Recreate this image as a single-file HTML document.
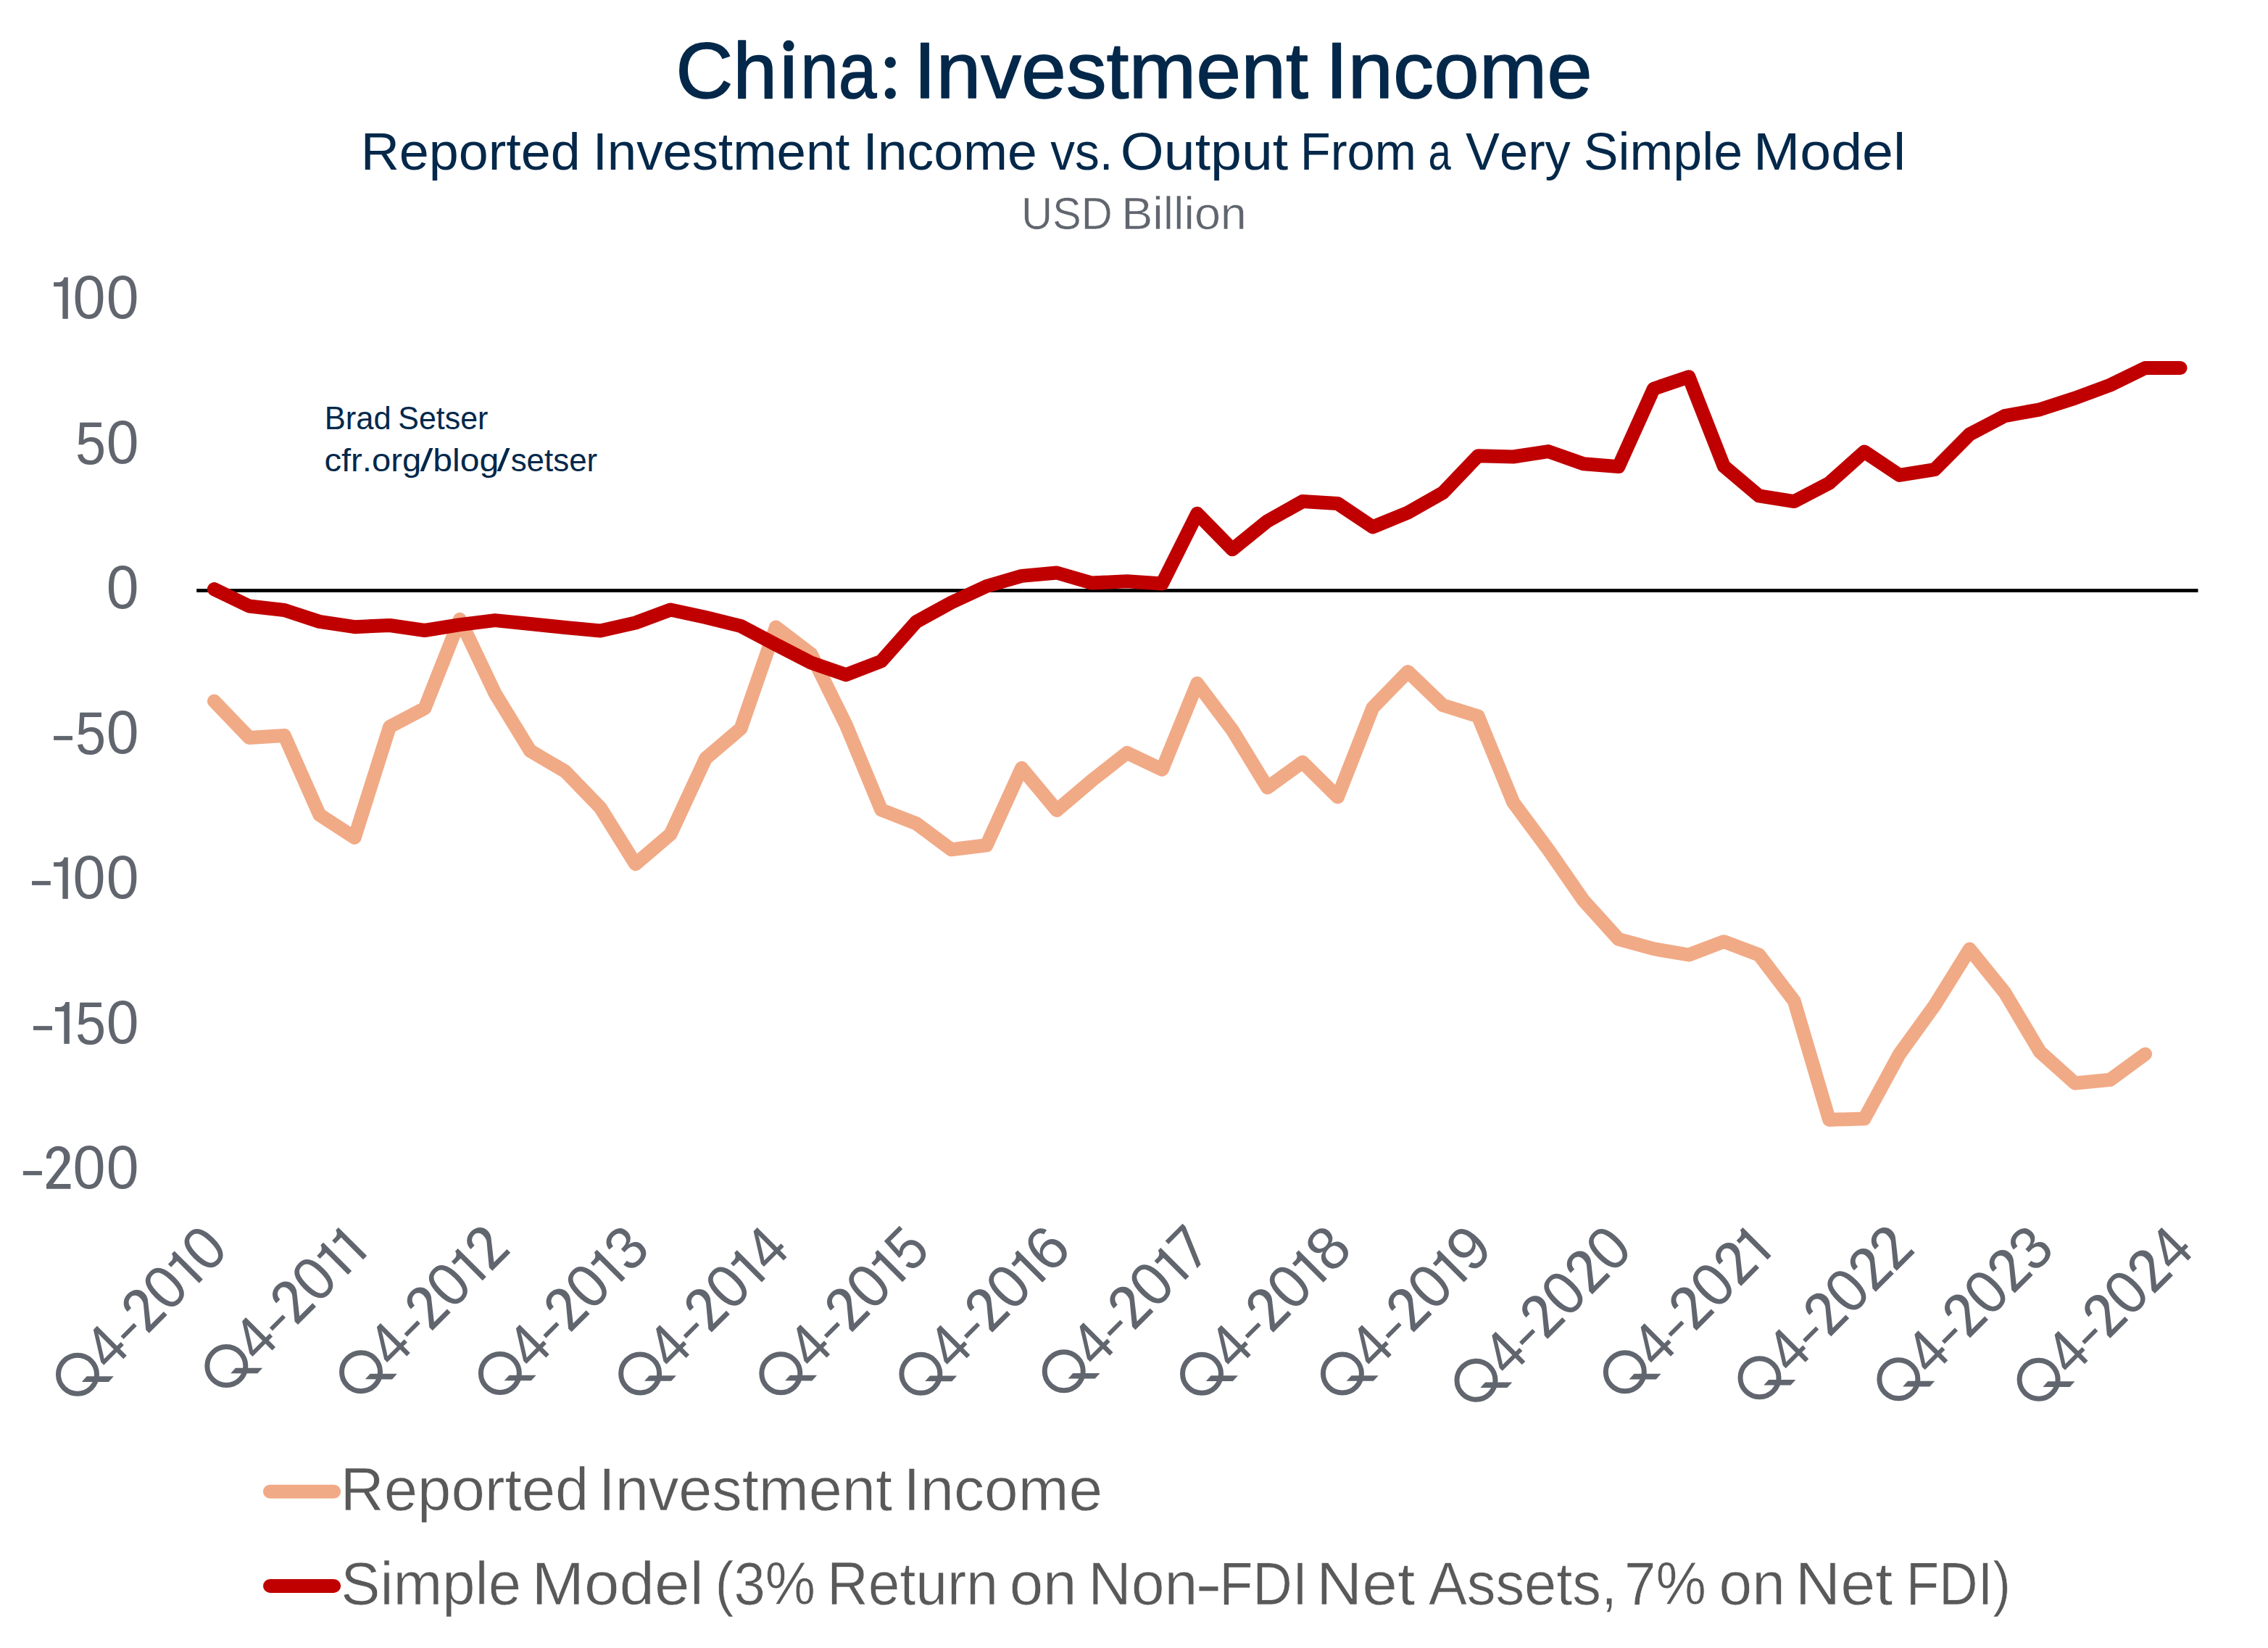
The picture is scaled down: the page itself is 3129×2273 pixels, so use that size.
<!DOCTYPE html>
<html><head><meta charset="utf-8"><title>China: Investment Income</title><style>
html,body{margin:0;padding:0;background:#fff;overflow:hidden;}
svg{display:block;}
text{font-family:'Liberation Sans', sans-serif;font-kerning:none;}
</style></head><body>
<svg width="3129" height="2273" viewBox="0 0 3129 2273">
<rect width="3129" height="2273" fill="#fff"/>
<text transform="translate(932.19,134.80) scale(0.9962,1)" font-size="110" fill="#03284a" stroke="#03284a" stroke-width="1.50" stroke-linejoin="round">Ch</text>
<text transform="translate(1072.06,134.80) scale(1.0447,1)" font-size="110" fill="#03284a" stroke="#03284a" stroke-width="1.50" stroke-linejoin="round">ı</text>
<text transform="translate(1104.16,134.80) scale(0.8614,1)" font-size="110" fill="#03284a" stroke="#03284a" stroke-width="1.50" stroke-linejoin="round">na</text>
<text transform="translate(1260.47,134.80) scale(1.0122,1)" font-size="110" fill="#03284a" stroke="#03284a" stroke-width="1.50" stroke-linejoin="round">Investment</text>
<text transform="translate(1828.38,134.80) scale(1.0215,1)" font-size="110" fill="#03284a" stroke="#03284a" stroke-width="1.50" stroke-linejoin="round">Income</text>
<text transform="translate(497.66,233.50) scale(1.0093,1)" font-size="73" fill="#03284a">Reported</text>
<text transform="translate(817.71,233.50) scale(0.9935,1)" font-size="73" fill="#03284a">Investment</text>
<text transform="translate(1190.44,233.50) scale(1.0039,1)" font-size="73" fill="#03284a">Income</text>
<text transform="translate(1449.17,233.50) scale(0.9251,1)" font-size="73" fill="#03284a">vs.</text>
<text transform="translate(1545.85,233.50) scale(1.0555,1)" font-size="73" fill="#03284a">Output</text>
<text transform="translate(1793.77,233.50) scale(0.9398,1)" font-size="73" fill="#03284a">From</text>
<text transform="translate(1970.51,233.50) scale(0.7707,1)" font-size="73" fill="#03284a">a</text>
<text transform="translate(2022.09,233.50) scale(0.9643,1)" font-size="73" fill="#03284a">Very</text>
<text transform="translate(2184.74,233.50) scale(0.9830,1)" font-size="73" fill="#03284a">Simple</text>
<text transform="translate(2418.97,233.50) scale(1.0572,1)" font-size="73" fill="#03284a">Model</text>
<text transform="translate(1408.90,316.10) scale(0.9469,1)" font-size="63" fill="#60656e" stroke="#fff" stroke-width="0.60">USD</text>
<text transform="translate(1547.19,316.10) scale(1.0276,1)" font-size="63" fill="#60656e" stroke="#fff" stroke-width="0.60">Billion</text>
<circle cx="1088.0" cy="63.1" r="7.6" fill="#03284a"/><circle cx="1228.3" cy="86.2" r="7.6" fill="#03284a"/><circle cx="1228.3" cy="128.9" r="7.6" fill="#03284a"/>
<g fill="#60656e">
<path d="M74.10,389.16 L80.77,389.16 C84.65,389.16 87.63,386.47 88.33,382.39 L93.80,382.39 L93.80,439.80 L86.34,439.80 L86.34,395.33 L74.10,395.33 Z"/>
<text transform="translate(100.54,439.48) scale(0.9638,1.0055)" font-size="84">0</text>
<text transform="translate(146.65,439.48) scale(0.9588,1.0055)" font-size="84">0</text>
<text transform="translate(104.07,639.80) scale(0.9014,1.0000)" font-size="84">5</text>
<text transform="translate(146.65,639.48) scale(0.9588,1.0055)" font-size="84">0</text>
<text transform="translate(146.65,839.48) scale(0.9588,1.0055)" font-size="84">0</text>
<rect x="74.10" y="1015.10" width="25.90" height="5.8"/>
<text transform="translate(104.07,1039.80) scale(0.9014,1.0000)" font-size="84">5</text>
<text transform="translate(146.65,1039.48) scale(0.9588,1.0055)" font-size="84">0</text>
<rect x="44.00" y="1215.10" width="25.80" height="5.8"/>
<path d="M74.10,1189.16 L80.77,1189.16 C84.65,1189.16 87.63,1186.47 88.33,1182.39 L93.80,1182.39 L93.80,1239.80 L86.34,1239.80 L86.34,1195.33 L74.10,1195.33 Z"/>
<text transform="translate(100.54,1239.48) scale(0.9638,1.0055)" font-size="84">0</text>
<text transform="translate(146.65,1239.48) scale(0.9588,1.0055)" font-size="84">0</text>
<rect x="46.00" y="1415.10" width="26.00" height="5.8"/>
<path d="M76.00,1388.90 L82.70,1388.90 C86.60,1388.90 89.60,1386.20 90.30,1382.10 L95.80,1382.10 L95.80,1439.80 L88.30,1439.80 L88.30,1395.10 L76.00,1395.10 Z"/>
<text transform="translate(104.07,1439.80) scale(0.9014,1.0000)" font-size="84">5</text>
<text transform="translate(146.65,1439.48) scale(0.9588,1.0055)" font-size="84">0</text>
<rect x="31.90" y="1615.10" width="26.00" height="5.8"/>
<path d="M63.80,1597.80 C63.80,1587.30 71.30,1580.70 80.30,1580.70 C89.80,1580.70 96.60,1587.30 96.60,1596.20 C96.60,1601.30 94.80,1604.80 91.80,1608.30 L73.30,1633.00 L97.40,1633.00 L97.40,1639.80 L64.00,1639.80 L64.00,1633.50 L85.30,1606.30 C87.30,1603.80 88.10,1600.30 88.10,1596.20 C88.10,1590.80 84.80,1587.10 80.30,1587.10 C74.80,1587.10 70.80,1591.30 70.80,1597.80 Z"/>
<text transform="translate(100.54,1639.48) scale(0.9638,1.0055)" font-size="84">0</text>
<text transform="translate(146.65,1639.48) scale(0.9588,1.0055)" font-size="84">0</text>
</g>
<text transform="translate(447.72,592.40) scale(0.9688,1)" font-size="45" fill="#03284a">Brad</text>
<text transform="translate(549.35,592.40) scale(0.9531,1)" font-size="45" fill="#03284a">Setser</text>
<text transform="translate(447.40,649.60) scale(1.0488,1)" font-size="45" fill="#03284a">cfr.org</text>
<text transform="translate(579.60,649.60) scale(1.4397,1)" font-size="45" fill="#03284a">/</text>
<text transform="translate(597.30,649.60) scale(1.0697,1)" font-size="45" fill="#03284a">blog</text>
<text transform="translate(685.60,649.60) scale(1.4477,1)" font-size="45" fill="#03284a">/</text>
<text transform="translate(704.68,649.60) scale(0.9756,1)" font-size="45" fill="#03284a">setser</text>
<rect x="271.2" y="812.1" width="2761.3" height="4.8" fill="#000"/>
<polyline points="295.4,967.0 343.8,1017.4 392.3,1014.5 440.7,1123.7 489.2,1155.2 537.6,1002.3 586.0,976.8 634.5,854.3 682.9,956.2 731.4,1035.5 779.8,1064.0 828.2,1114.0 876.7,1191.7 925.1,1150.4 973.6,1046.0 1022.0,1004.8 1070.4,865.0 1118.9,902.0 1167.3,1000.0 1215.8,1117.0 1264.2,1135.9 1312.6,1171.8 1361.1,1165.7 1409.5,1059.4 1458.0,1117.6 1506.4,1076.4 1554.8,1038.4 1603.3,1061.4 1651.7,942.6 1700.2,1007.0 1748.6,1086.2 1797.0,1051.2 1845.5,1099.3 1893.9,976.1 1942.4,926.4 1990.8,972.8 2039.2,987.9 2087.7,1106.7 2136.1,1171.8 2184.6,1241.9 2233.0,1295.3 2281.4,1308.7 2329.9,1317.0 2378.3,1298.7 2426.8,1317.0 2475.2,1380.4 2523.6,1544.4 2572.1,1543.0 2620.5,1453.9 2669.0,1386.7 2717.4,1309.1 2765.8,1369.0 2814.3,1450.6 2862.7,1494.0 2911.2,1489.2 2959.6,1453.9" fill="none" stroke="#f1aa86" stroke-width="19" stroke-linejoin="round" stroke-linecap="round"/>
<polyline points="295.4,812.6 343.8,836.0 392.3,841.5 440.7,857.4 489.2,864.7 537.6,862.5 586.0,869.5 634.5,861.6 682.9,855.6 731.4,860.5 779.8,865.5 828.2,870.0 876.7,859.0 925.1,841.0 973.6,851.5 1022.0,863.5 1070.4,889.0 1118.9,914.0 1167.3,930.7 1215.8,912.0 1264.2,857.5 1312.6,831.0 1361.1,808.5 1409.5,794.4 1458.0,790.0 1506.4,804.1 1554.8,801.7 1603.3,805.0 1651.7,708.3 1700.2,757.8 1748.6,718.7 1797.0,691.6 1845.5,694.5 1893.9,726.9 1942.4,707.0 1990.8,679.5 2039.2,628.8 2087.7,630.0 2136.1,622.6 2184.6,639.8 2233.0,643.6 2281.4,536.2 2329.9,519.7 2378.3,643.1 2426.8,683.9 2475.2,691.6 2523.6,666.3 2572.1,623.0 2620.5,655.4 2669.0,647.7 2717.4,599.0 2765.8,573.6 2814.3,564.8 2862.7,549.1 2911.2,531.1 2959.6,507.5 3008.0,507.5" fill="none" stroke="#c00000" stroke-width="19" stroke-linejoin="round" stroke-linecap="round"/>
<g fill="#60656e">
<g transform="translate(318.13,1726.27) rotate(-45)"><circle cx="-269.10" cy="-29.50" r="26.50" fill="none" stroke="#60656e" stroke-width="7.00"/><path d="M-272.20,-18.20 L-262.00,-18.70 L-235.70,7.60 L-246.00,8.10 Z"/><text transform="translate(-235.98,0.00) scale(0.9214,1.0000)" font-size="84">4</text><rect x="-189.70" y="-24.70" width="25.60" height="5.8"/><path d="M-159.20,-42.00 C-159.20,-52.50 -151.28,-59.10 -141.77,-59.10 C-131.73,-59.10 -124.55,-52.50 -124.55,-43.60 C-124.55,-38.50 -126.45,-35.00 -129.62,-31.50 L-149.16,-6.80 L-123.70,-6.80 L-123.70,0.00 L-158.99,0.00 L-158.99,-6.30 L-136.48,-33.50 C-134.37,-36.00 -133.53,-39.50 -133.53,-43.60 C-133.53,-49.00 -137.01,-52.70 -141.77,-52.70 C-147.58,-52.70 -151.80,-48.50 -151.80,-42.00 Z"/><text transform="translate(-121.39,-0.32) scale(0.9713,1.0055)" font-size="84">0</text><path d="M-73.20,-48.84 L-66.77,-48.84 C-63.03,-48.84 -60.15,-51.43 -59.48,-55.37 L-54.20,-55.37 L-54.20,0.00 L-61.40,0.00 L-61.40,-42.89 L-73.20,-42.89 Z"/><text transform="translate(-45.58,-0.32) scale(0.9688,1.0055)" font-size="84">0</text></g>
<g transform="translate(511.89,1726.27) rotate(-45)"><circle cx="-252.70" cy="-29.50" r="26.50" fill="none" stroke="#60656e" stroke-width="7.00"/><path d="M-255.80,-18.20 L-245.60,-18.70 L-219.30,7.60 L-229.60,8.10 Z"/><text transform="translate(-219.58,0.00) scale(0.9214,1.0000)" font-size="84">4</text><rect x="-173.30" y="-24.70" width="25.60" height="5.8"/><path d="M-142.80,-42.00 C-142.80,-52.50 -134.88,-59.10 -125.37,-59.10 C-115.33,-59.10 -108.15,-52.50 -108.15,-43.60 C-108.15,-38.50 -110.05,-35.00 -113.22,-31.50 L-132.76,-6.80 L-107.30,-6.80 L-107.30,0.00 L-142.59,0.00 L-142.59,-6.30 L-120.08,-33.50 C-117.97,-36.00 -117.13,-39.50 -117.13,-43.60 C-117.13,-49.00 -120.61,-52.70 -125.37,-52.70 C-131.18,-52.70 -135.40,-48.50 -135.40,-42.00 Z"/><text transform="translate(-104.99,-0.32) scale(0.9713,1.0055)" font-size="84">0</text><path d="M-56.80,-48.84 L-50.37,-48.84 C-46.63,-48.84 -43.75,-51.43 -43.08,-55.37 L-37.80,-55.37 L-37.80,0.00 L-45.00,0.00 L-45.00,-42.89 L-56.80,-42.89 Z"/><path d="M-27.20,-48.84 L-20.77,-48.84 C-17.03,-48.84 -14.15,-51.43 -13.48,-55.37 L-8.20,-55.37 L-8.20,0.00 L-15.40,0.00 L-15.40,-42.89 L-27.20,-42.89 Z"/></g>
<g transform="translate(705.64,1726.28) rotate(-45)"><circle cx="-264.10" cy="-29.50" r="26.50" fill="none" stroke="#60656e" stroke-width="7.00"/><path d="M-267.20,-18.20 L-257.00,-18.70 L-230.70,7.60 L-241.00,8.10 Z"/><text transform="translate(-230.98,0.00) scale(0.9214,1.0000)" font-size="84">4</text><rect x="-184.70" y="-24.70" width="25.60" height="5.8"/><path d="M-154.20,-42.00 C-154.20,-52.50 -146.28,-59.10 -136.77,-59.10 C-126.73,-59.10 -119.55,-52.50 -119.55,-43.60 C-119.55,-38.50 -121.45,-35.00 -124.62,-31.50 L-144.16,-6.80 L-118.70,-6.80 L-118.70,0.00 L-153.99,0.00 L-153.99,-6.30 L-131.48,-33.50 C-129.37,-36.00 -128.53,-39.50 -128.53,-43.60 C-128.53,-49.00 -132.01,-52.70 -136.77,-52.70 C-142.58,-52.70 -146.80,-48.50 -146.80,-42.00 Z"/><text transform="translate(-116.39,-0.32) scale(0.9713,1.0055)" font-size="84">0</text><path d="M-68.20,-48.84 L-61.77,-48.84 C-58.03,-48.84 -55.15,-51.43 -54.48,-55.37 L-49.20,-55.37 L-49.20,0.00 L-56.40,0.00 L-56.40,-42.89 L-68.20,-42.89 Z"/><path d="M-37.50,-42.00 C-37.50,-52.50 -29.58,-59.10 -20.07,-59.10 C-10.03,-59.10 -2.85,-52.50 -2.85,-43.60 C-2.85,-38.50 -4.75,-35.00 -7.92,-31.50 L-27.46,-6.80 L-2.00,-6.80 L-2.00,0.00 L-37.29,0.00 L-37.29,-6.30 L-14.78,-33.50 C-12.67,-36.00 -11.83,-39.50 -11.83,-43.60 C-11.83,-49.00 -15.31,-52.70 -20.07,-52.70 C-25.88,-52.70 -30.10,-48.50 -30.10,-42.00 Z"/></g>
<g transform="translate(899.39,1726.29) rotate(-45)"><circle cx="-266.80" cy="-29.50" r="26.50" fill="none" stroke="#60656e" stroke-width="7.00"/><path d="M-269.90,-18.20 L-259.70,-18.70 L-233.40,7.60 L-243.70,8.10 Z"/><text transform="translate(-233.68,0.00) scale(0.9214,1.0000)" font-size="84">4</text><rect x="-187.40" y="-24.70" width="25.60" height="5.8"/><path d="M-156.90,-42.00 C-156.90,-52.50 -148.98,-59.10 -139.47,-59.10 C-129.43,-59.10 -122.25,-52.50 -122.25,-43.60 C-122.25,-38.50 -124.15,-35.00 -127.32,-31.50 L-146.86,-6.80 L-121.40,-6.80 L-121.40,0.00 L-156.69,0.00 L-156.69,-6.30 L-134.18,-33.50 C-132.07,-36.00 -131.23,-39.50 -131.23,-43.60 C-131.23,-49.00 -134.71,-52.70 -139.47,-52.70 C-145.28,-52.70 -149.50,-48.50 -149.50,-42.00 Z"/><text transform="translate(-119.09,-0.32) scale(0.9713,1.0055)" font-size="84">0</text><path d="M-70.90,-48.84 L-64.47,-48.84 C-60.73,-48.84 -57.85,-51.43 -57.18,-55.37 L-51.90,-55.37 L-51.90,0.00 L-59.10,0.00 L-59.10,-42.89 L-70.90,-42.89 Z"/><text transform="translate(-43.73,0.00) scale(0.9466,1.0000)" font-size="84">3</text></g>
<g transform="translate(1093.15,1726.29) rotate(-45)"><circle cx="-267.50" cy="-29.50" r="26.50" fill="none" stroke="#60656e" stroke-width="7.00"/><path d="M-270.60,-18.20 L-260.40,-18.70 L-234.10,7.60 L-244.40,8.10 Z"/><text transform="translate(-234.38,0.00) scale(0.9214,1.0000)" font-size="84">4</text><rect x="-188.10" y="-24.70" width="25.60" height="5.8"/><path d="M-157.60,-42.00 C-157.60,-52.50 -149.68,-59.10 -140.17,-59.10 C-130.13,-59.10 -122.95,-52.50 -122.95,-43.60 C-122.95,-38.50 -124.85,-35.00 -128.02,-31.50 L-147.56,-6.80 L-122.10,-6.80 L-122.10,0.00 L-157.39,0.00 L-157.39,-6.30 L-134.88,-33.50 C-132.77,-36.00 -131.93,-39.50 -131.93,-43.60 C-131.93,-49.00 -135.41,-52.70 -140.17,-52.70 C-145.98,-52.70 -150.20,-48.50 -150.20,-42.00 Z"/><text transform="translate(-119.79,-0.32) scale(0.9713,1.0055)" font-size="84">0</text><path d="M-71.60,-48.84 L-65.17,-48.84 C-61.43,-48.84 -58.55,-51.43 -57.88,-55.37 L-52.60,-55.37 L-52.60,0.00 L-59.80,0.00 L-59.80,-42.89 L-71.60,-42.89 Z"/><text transform="translate(-44.18,0.00) scale(0.9214,1.0000)" font-size="84">4</text></g>
<g transform="translate(1286.90,1726.30) rotate(-45)"><circle cx="-266.90" cy="-29.50" r="26.50" fill="none" stroke="#60656e" stroke-width="7.00"/><path d="M-270.00,-18.20 L-259.80,-18.70 L-233.50,7.60 L-243.80,8.10 Z"/><text transform="translate(-233.78,0.00) scale(0.9214,1.0000)" font-size="84">4</text><rect x="-187.50" y="-24.70" width="25.60" height="5.8"/><path d="M-157.00,-42.00 C-157.00,-52.50 -149.08,-59.10 -139.57,-59.10 C-129.53,-59.10 -122.35,-52.50 -122.35,-43.60 C-122.35,-38.50 -124.25,-35.00 -127.42,-31.50 L-146.96,-6.80 L-121.50,-6.80 L-121.50,0.00 L-156.79,0.00 L-156.79,-6.30 L-134.28,-33.50 C-132.17,-36.00 -131.33,-39.50 -131.33,-43.60 C-131.33,-49.00 -134.81,-52.70 -139.57,-52.70 C-145.38,-52.70 -149.60,-48.50 -149.60,-42.00 Z"/><text transform="translate(-119.19,-0.32) scale(0.9713,1.0055)" font-size="84">0</text><path d="M-71.00,-48.84 L-64.57,-48.84 C-60.83,-48.84 -57.95,-51.43 -57.28,-55.37 L-52.00,-55.37 L-52.00,0.00 L-59.20,0.00 L-59.20,-42.89 L-71.00,-42.89 Z"/><text transform="translate(-43.43,0.00) scale(0.9014,1.0000)" font-size="84">5</text></g>
<g transform="translate(1480.66,1726.30) rotate(-45)"><circle cx="-267.90" cy="-29.50" r="26.50" fill="none" stroke="#60656e" stroke-width="7.00"/><path d="M-271.00,-18.20 L-260.80,-18.70 L-234.50,7.60 L-244.80,8.10 Z"/><text transform="translate(-234.78,0.00) scale(0.9214,1.0000)" font-size="84">4</text><rect x="-188.50" y="-24.70" width="25.60" height="5.8"/><path d="M-158.00,-42.00 C-158.00,-52.50 -150.08,-59.10 -140.57,-59.10 C-130.53,-59.10 -123.35,-52.50 -123.35,-43.60 C-123.35,-38.50 -125.25,-35.00 -128.42,-31.50 L-147.96,-6.80 L-122.50,-6.80 L-122.50,0.00 L-157.79,0.00 L-157.79,-6.30 L-135.28,-33.50 C-133.17,-36.00 -132.33,-39.50 -132.33,-43.60 C-132.33,-49.00 -135.81,-52.70 -140.57,-52.70 C-146.38,-52.70 -150.60,-48.50 -150.60,-42.00 Z"/><text transform="translate(-120.19,-0.32) scale(0.9713,1.0055)" font-size="84">0</text><path d="M-72.00,-48.84 L-65.57,-48.84 C-61.83,-48.84 -58.95,-51.43 -58.28,-55.37 L-53.00,-55.37 L-53.00,0.00 L-60.20,0.00 L-60.20,-42.89 L-72.00,-42.89 Z"/><text transform="translate(-46.07,0.00) scale(1.0010,1.0000)" font-size="84">6</text></g>
<g transform="translate(1674.41,1726.31) rotate(-45)"><circle cx="-262.80" cy="-29.50" r="26.50" fill="none" stroke="#60656e" stroke-width="7.00"/><path d="M-265.90,-18.20 L-255.70,-18.70 L-229.40,7.60 L-239.70,8.10 Z"/><text transform="translate(-229.68,0.00) scale(0.9214,1.0000)" font-size="84">4</text><rect x="-183.40" y="-24.70" width="25.60" height="5.8"/><path d="M-152.90,-42.00 C-152.90,-52.50 -144.98,-59.10 -135.47,-59.10 C-125.43,-59.10 -118.25,-52.50 -118.25,-43.60 C-118.25,-38.50 -120.15,-35.00 -123.32,-31.50 L-142.86,-6.80 L-117.40,-6.80 L-117.40,0.00 L-152.69,0.00 L-152.69,-6.30 L-130.18,-33.50 C-128.07,-36.00 -127.23,-39.50 -127.23,-43.60 C-127.23,-49.00 -130.71,-52.70 -135.47,-52.70 C-141.28,-52.70 -145.50,-48.50 -145.50,-42.00 Z"/><text transform="translate(-115.09,-0.32) scale(0.9713,1.0055)" font-size="84">0</text><path d="M-66.90,-48.84 L-60.47,-48.84 C-56.73,-48.84 -53.85,-51.43 -53.18,-55.37 L-47.90,-55.37 L-47.90,0.00 L-55.10,0.00 L-55.10,-42.89 L-66.90,-42.89 Z"/><path d="M-36.70,-57.70 L-3.00,-57.70 L-3.00,-52.00 L-25.11,0.00 L-32.38,0.00 L-10.76,-51.40 L-36.70,-51.40 Z"/></g>
<g transform="translate(1868.16,1726.32) rotate(-45)"><circle cx="-267.70" cy="-29.50" r="26.50" fill="none" stroke="#60656e" stroke-width="7.00"/><path d="M-270.80,-18.20 L-260.60,-18.70 L-234.30,7.60 L-244.60,8.10 Z"/><text transform="translate(-234.58,0.00) scale(0.9214,1.0000)" font-size="84">4</text><rect x="-188.30" y="-24.70" width="25.60" height="5.8"/><path d="M-157.80,-42.00 C-157.80,-52.50 -149.88,-59.10 -140.37,-59.10 C-130.33,-59.10 -123.15,-52.50 -123.15,-43.60 C-123.15,-38.50 -125.05,-35.00 -128.22,-31.50 L-147.76,-6.80 L-122.30,-6.80 L-122.30,0.00 L-157.59,0.00 L-157.59,-6.30 L-135.08,-33.50 C-132.97,-36.00 -132.13,-39.50 -132.13,-43.60 C-132.13,-49.00 -135.61,-52.70 -140.37,-52.70 C-146.18,-52.70 -150.40,-48.50 -150.40,-42.00 Z"/><text transform="translate(-119.99,-0.32) scale(0.9713,1.0055)" font-size="84">0</text><path d="M-71.80,-48.84 L-65.37,-48.84 C-61.63,-48.84 -58.75,-51.43 -58.08,-55.37 L-52.80,-55.37 L-52.80,0.00 L-60.00,0.00 L-60.00,-42.89 L-71.80,-42.89 Z"/><text transform="translate(-45.17,0.00) scale(0.9793,1.0000)" font-size="84">8</text></g>
<g transform="translate(2061.92,1726.32) rotate(-45)"><circle cx="-267.50" cy="-29.50" r="26.50" fill="none" stroke="#60656e" stroke-width="7.00"/><path d="M-270.60,-18.20 L-260.40,-18.70 L-234.10,7.60 L-244.40,8.10 Z"/><text transform="translate(-234.38,0.00) scale(0.9214,1.0000)" font-size="84">4</text><rect x="-188.10" y="-24.70" width="25.60" height="5.8"/><path d="M-157.60,-42.00 C-157.60,-52.50 -149.68,-59.10 -140.17,-59.10 C-130.13,-59.10 -122.95,-52.50 -122.95,-43.60 C-122.95,-38.50 -124.85,-35.00 -128.02,-31.50 L-147.56,-6.80 L-122.10,-6.80 L-122.10,0.00 L-157.39,0.00 L-157.39,-6.30 L-134.88,-33.50 C-132.77,-36.00 -131.93,-39.50 -131.93,-43.60 C-131.93,-49.00 -135.41,-52.70 -140.17,-52.70 C-145.98,-52.70 -150.20,-48.50 -150.20,-42.00 Z"/><text transform="translate(-119.79,-0.32) scale(0.9713,1.0055)" font-size="84">0</text><path d="M-71.60,-48.84 L-65.17,-48.84 C-61.43,-48.84 -58.55,-51.43 -57.88,-55.37 L-52.60,-55.37 L-52.60,0.00 L-59.80,0.00 L-59.80,-42.89 L-71.60,-42.89 Z"/><text transform="translate(-45.30,0.00) scale(0.9897,1.0000)" font-size="84">9</text></g>
<g transform="translate(2255.67,1726.33) rotate(-45)"><circle cx="-280.50" cy="-29.50" r="26.50" fill="none" stroke="#60656e" stroke-width="7.00"/><path d="M-283.60,-18.20 L-273.40,-18.70 L-247.10,7.60 L-257.40,8.10 Z"/><text transform="translate(-247.38,0.00) scale(0.9214,1.0000)" font-size="84">4</text><rect x="-201.10" y="-24.70" width="25.60" height="5.8"/><path d="M-170.60,-42.00 C-170.60,-52.50 -162.68,-59.10 -153.17,-59.10 C-143.13,-59.10 -135.95,-52.50 -135.95,-43.60 C-135.95,-38.50 -137.85,-35.00 -141.02,-31.50 L-160.56,-6.80 L-135.10,-6.80 L-135.10,0.00 L-170.39,0.00 L-170.39,-6.30 L-147.88,-33.50 C-145.77,-36.00 -144.93,-39.50 -144.93,-43.60 C-144.93,-49.00 -148.41,-52.70 -153.17,-52.70 C-158.98,-52.70 -163.20,-48.50 -163.20,-42.00 Z"/><text transform="translate(-132.79,-0.32) scale(0.9713,1.0055)" font-size="84">0</text><path d="M-83.50,-42.00 C-83.50,-52.50 -75.58,-59.10 -66.07,-59.10 C-56.03,-59.10 -48.85,-52.50 -48.85,-43.60 C-48.85,-38.50 -50.75,-35.00 -53.92,-31.50 L-73.46,-6.80 L-48.00,-6.80 L-48.00,0.00 L-83.29,0.00 L-83.29,-6.30 L-60.78,-33.50 C-58.67,-36.00 -57.83,-39.50 -57.83,-43.60 C-57.83,-49.00 -61.31,-52.70 -66.07,-52.70 C-71.88,-52.70 -76.10,-48.50 -76.10,-42.00 Z"/><text transform="translate(-45.58,-0.32) scale(0.9688,1.0055)" font-size="84">0</text></g>
<g transform="translate(2449.42,1726.34) rotate(-45)"><circle cx="-264.10" cy="-29.50" r="26.50" fill="none" stroke="#60656e" stroke-width="7.00"/><path d="M-267.20,-18.20 L-257.00,-18.70 L-230.70,7.60 L-241.00,8.10 Z"/><text transform="translate(-230.98,0.00) scale(0.9214,1.0000)" font-size="84">4</text><rect x="-184.70" y="-24.70" width="25.60" height="5.8"/><path d="M-154.20,-42.00 C-154.20,-52.50 -146.28,-59.10 -136.77,-59.10 C-126.73,-59.10 -119.55,-52.50 -119.55,-43.60 C-119.55,-38.50 -121.45,-35.00 -124.62,-31.50 L-144.16,-6.80 L-118.70,-6.80 L-118.70,0.00 L-153.99,0.00 L-153.99,-6.30 L-131.48,-33.50 C-129.37,-36.00 -128.53,-39.50 -128.53,-43.60 C-128.53,-49.00 -132.01,-52.70 -136.77,-52.70 C-142.58,-52.70 -146.80,-48.50 -146.80,-42.00 Z"/><text transform="translate(-116.39,-0.32) scale(0.9713,1.0055)" font-size="84">0</text><path d="M-67.10,-42.00 C-67.10,-52.50 -59.18,-59.10 -49.67,-59.10 C-39.63,-59.10 -32.45,-52.50 -32.45,-43.60 C-32.45,-38.50 -34.35,-35.00 -37.52,-31.50 L-57.06,-6.80 L-31.60,-6.80 L-31.60,0.00 L-66.89,0.00 L-66.89,-6.30 L-44.38,-33.50 C-42.27,-36.00 -41.43,-39.50 -41.43,-43.60 C-41.43,-49.00 -44.91,-52.70 -49.67,-52.70 C-55.48,-52.70 -59.70,-48.50 -59.70,-42.00 Z"/><path d="M-27.20,-48.84 L-20.77,-48.84 C-17.03,-48.84 -14.15,-51.43 -13.48,-55.37 L-8.20,-55.37 L-8.20,0.00 L-15.40,0.00 L-15.40,-42.89 L-27.20,-42.89 Z"/></g>
<g transform="translate(2643.18,1726.34) rotate(-45)"><circle cx="-275.50" cy="-29.50" r="26.50" fill="none" stroke="#60656e" stroke-width="7.00"/><path d="M-278.60,-18.20 L-268.40,-18.70 L-242.10,7.60 L-252.40,8.10 Z"/><text transform="translate(-242.38,0.00) scale(0.9214,1.0000)" font-size="84">4</text><rect x="-196.10" y="-24.70" width="25.60" height="5.8"/><path d="M-165.60,-42.00 C-165.60,-52.50 -157.68,-59.10 -148.17,-59.10 C-138.13,-59.10 -130.95,-52.50 -130.95,-43.60 C-130.95,-38.50 -132.85,-35.00 -136.02,-31.50 L-155.56,-6.80 L-130.10,-6.80 L-130.10,0.00 L-165.39,0.00 L-165.39,-6.30 L-142.88,-33.50 C-140.77,-36.00 -139.93,-39.50 -139.93,-43.60 C-139.93,-49.00 -143.41,-52.70 -148.17,-52.70 C-153.98,-52.70 -158.20,-48.50 -158.20,-42.00 Z"/><text transform="translate(-127.79,-0.32) scale(0.9713,1.0055)" font-size="84">0</text><path d="M-78.50,-42.00 C-78.50,-52.50 -70.58,-59.10 -61.07,-59.10 C-51.03,-59.10 -43.85,-52.50 -43.85,-43.60 C-43.85,-38.50 -45.75,-35.00 -48.92,-31.50 L-68.46,-6.80 L-43.00,-6.80 L-43.00,0.00 L-78.29,0.00 L-78.29,-6.30 L-55.78,-33.50 C-53.67,-36.00 -52.83,-39.50 -52.83,-43.60 C-52.83,-49.00 -56.31,-52.70 -61.07,-52.70 C-66.88,-52.70 -71.10,-48.50 -71.10,-42.00 Z"/><path d="M-37.50,-42.00 C-37.50,-52.50 -29.58,-59.10 -20.07,-59.10 C-10.03,-59.10 -2.85,-52.50 -2.85,-43.60 C-2.85,-38.50 -4.75,-35.00 -7.92,-31.50 L-27.46,-6.80 L-2.00,-6.80 L-2.00,0.00 L-37.29,0.00 L-37.29,-6.30 L-14.78,-33.50 C-12.67,-36.00 -11.83,-39.50 -11.83,-43.60 C-11.83,-49.00 -15.31,-52.70 -20.07,-52.70 C-25.88,-52.70 -30.10,-48.50 -30.10,-42.00 Z"/></g>
<g transform="translate(2836.93,1726.35) rotate(-45)"><circle cx="-278.20" cy="-29.50" r="26.50" fill="none" stroke="#60656e" stroke-width="7.00"/><path d="M-281.30,-18.20 L-271.10,-18.70 L-244.80,7.60 L-255.10,8.10 Z"/><text transform="translate(-245.08,0.00) scale(0.9214,1.0000)" font-size="84">4</text><rect x="-198.80" y="-24.70" width="25.60" height="5.8"/><path d="M-168.30,-42.00 C-168.30,-52.50 -160.38,-59.10 -150.87,-59.10 C-140.83,-59.10 -133.65,-52.50 -133.65,-43.60 C-133.65,-38.50 -135.55,-35.00 -138.72,-31.50 L-158.26,-6.80 L-132.80,-6.80 L-132.80,0.00 L-168.09,0.00 L-168.09,-6.30 L-145.58,-33.50 C-143.47,-36.00 -142.63,-39.50 -142.63,-43.60 C-142.63,-49.00 -146.11,-52.70 -150.87,-52.70 C-156.68,-52.70 -160.90,-48.50 -160.90,-42.00 Z"/><text transform="translate(-130.49,-0.32) scale(0.9713,1.0055)" font-size="84">0</text><path d="M-81.20,-42.00 C-81.20,-52.50 -73.28,-59.10 -63.77,-59.10 C-53.73,-59.10 -46.55,-52.50 -46.55,-43.60 C-46.55,-38.50 -48.45,-35.00 -51.62,-31.50 L-71.16,-6.80 L-45.70,-6.80 L-45.70,0.00 L-80.99,0.00 L-80.99,-6.30 L-58.48,-33.50 C-56.37,-36.00 -55.53,-39.50 -55.53,-43.60 C-55.53,-49.00 -59.01,-52.70 -63.77,-52.70 C-69.58,-52.70 -73.80,-48.50 -73.80,-42.00 Z"/><text transform="translate(-43.73,0.00) scale(0.9466,1.0000)" font-size="84">3</text></g>
<g transform="translate(3030.68,1726.36) rotate(-45)"><circle cx="-278.90" cy="-29.50" r="26.50" fill="none" stroke="#60656e" stroke-width="7.00"/><path d="M-282.00,-18.20 L-271.80,-18.70 L-245.50,7.60 L-255.80,8.10 Z"/><text transform="translate(-245.78,0.00) scale(0.9214,1.0000)" font-size="84">4</text><rect x="-199.50" y="-24.70" width="25.60" height="5.8"/><path d="M-169.00,-42.00 C-169.00,-52.50 -161.08,-59.10 -151.57,-59.10 C-141.53,-59.10 -134.35,-52.50 -134.35,-43.60 C-134.35,-38.50 -136.25,-35.00 -139.42,-31.50 L-158.96,-6.80 L-133.50,-6.80 L-133.50,0.00 L-168.79,0.00 L-168.79,-6.30 L-146.28,-33.50 C-144.17,-36.00 -143.33,-39.50 -143.33,-43.60 C-143.33,-49.00 -146.81,-52.70 -151.57,-52.70 C-157.38,-52.70 -161.60,-48.50 -161.60,-42.00 Z"/><text transform="translate(-131.19,-0.32) scale(0.9713,1.0055)" font-size="84">0</text><path d="M-81.90,-42.00 C-81.90,-52.50 -73.98,-59.10 -64.47,-59.10 C-54.43,-59.10 -47.25,-52.50 -47.25,-43.60 C-47.25,-38.50 -49.15,-35.00 -52.32,-31.50 L-71.86,-6.80 L-46.40,-6.80 L-46.40,0.00 L-81.69,0.00 L-81.69,-6.30 L-59.18,-33.50 C-57.07,-36.00 -56.23,-39.50 -56.23,-43.60 C-56.23,-49.00 -59.71,-52.70 -64.47,-52.70 C-70.28,-52.70 -74.50,-48.50 -74.50,-42.00 Z"/><text transform="translate(-44.18,0.00) scale(0.9214,1.0000)" font-size="84">4</text></g>
</g>
<line x1="372.5" y1="2057.2" x2="460.6" y2="2057.2" stroke="#f1aa86" stroke-width="19" stroke-linecap="round"/>
<line x1="372.5" y1="2187.4" x2="460.6" y2="2187.4" stroke="#c00000" stroke-width="19" stroke-linecap="round"/>
<rect x="1654.4" y="2188.2" width="26.1" height="6.1" fill="#595959"/><text transform="translate(469.51,2082.80) scale(1.0043,1)" font-size="83" fill="#595959" stroke="#fff" stroke-width="0.70">Reported</text>
<text transform="translate(825.81,2082.80) scale(0.9980,1)" font-size="83" fill="#595959" stroke="#fff" stroke-width="0.70">Investment</text>
<text transform="translate(1246.21,2082.80) scale(1.0102,1)" font-size="83" fill="#595959" stroke="#fff" stroke-width="0.70">Income</text>
<text transform="translate(470.26,2212.70) scale(0.9803,1)" font-size="83" fill="#595959" stroke="#fff" stroke-width="0.70">Simple</text>
<text transform="translate(733.50,2212.70) scale(1.0501,1)" font-size="83" fill="#595959" stroke="#fff" stroke-width="0.70">Model</text>
<text transform="translate(986.52,2212.70) scale(0.9377,1)" font-size="83" fill="#595959" stroke="#fff" stroke-width="0.70">(3%</text>
<text transform="translate(1141.00,2212.70) scale(0.9471,1)" font-size="83" fill="#595959" stroke="#fff" stroke-width="0.70">Return</text>
<text transform="translate(1392.64,2212.70) scale(1.0066,1)" font-size="83" fill="#595959" stroke="#fff" stroke-width="0.70">on</text>
<text transform="translate(1501.19,2212.70) scale(0.9931,1)" font-size="83" fill="#595959" stroke="#fff" stroke-width="0.70">Non</text>
<text transform="translate(1682.15,2212.70) scale(0.9108,1)" font-size="83" fill="#595959" stroke="#fff" stroke-width="0.70">FDI</text>
<text transform="translate(1815.96,2212.70) scale(1.0555,1)" font-size="83" fill="#595959" stroke="#fff" stroke-width="0.70">Net</text>
<text transform="translate(1970.90,2212.70) scale(0.9557,1)" font-size="83" fill="#595959" stroke="#fff" stroke-width="0.70">Assets,</text>
<text transform="translate(2240.95,2212.70) scale(0.9410,1)" font-size="83" fill="#595959" stroke="#fff" stroke-width="0.70">7%</text>
<text transform="translate(2371.60,2212.70) scale(0.9899,1)" font-size="83" fill="#595959" stroke="#fff" stroke-width="0.70">on</text>
<text transform="translate(2476.86,2212.70) scale(1.0407,1)" font-size="83" fill="#595959" stroke="#fff" stroke-width="0.70">Net</text>
<text transform="translate(2629.66,2212.70) scale(0.8950,1)" font-size="83" fill="#595959" stroke="#fff" stroke-width="0.70">FDI)</text>
</svg>
</body></html>
